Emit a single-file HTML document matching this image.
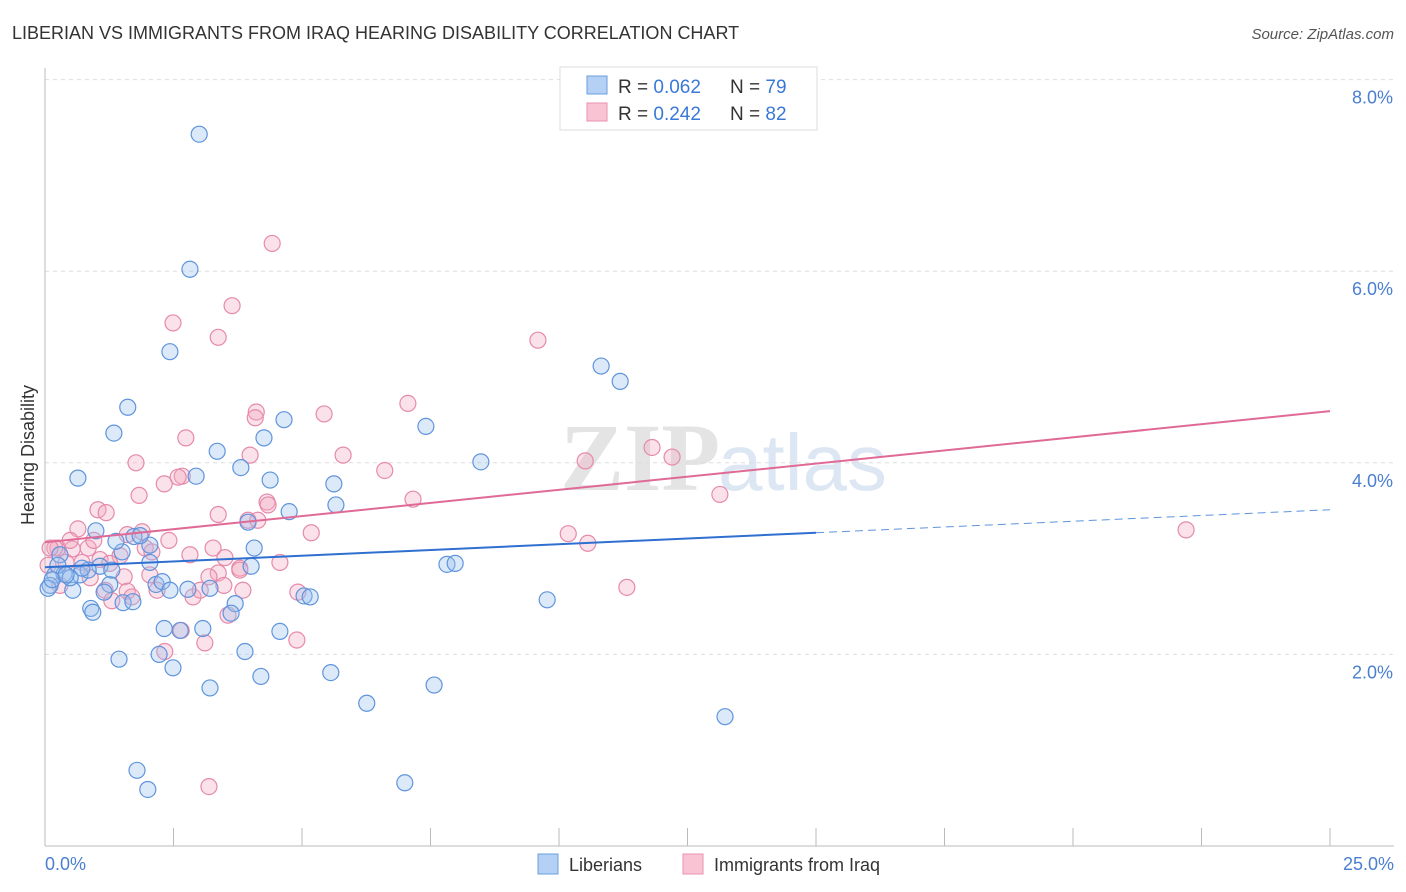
<!DOCTYPE html>
<html><head><meta charset="utf-8">
<style>
body{margin:0;background:#fff;font-family:"Liberation Sans",sans-serif;}
svg{display:block}
</style></head>
<body>
<svg id="chart" width="1406" height="892" xmlns="http://www.w3.org/2000/svg">
<text x="12" y="39" font-size="18" fill="#333">LIBERIAN VS IMMIGRANTS FROM IRAQ HEARING DISABILITY CORRELATION CHART</text>
<text x="1394" y="39" font-size="15" fill="#555" text-anchor="end" font-style="italic">Source: ZipAtlas.com</text>
<text x="720" y="490" font-size="96" fill="#e4e4e4" text-anchor="end" font-family="Liberation Serif" font-weight="bold">ZIP</text>
<text x="718" y="490" font-size="80" fill="#dde7f3">atlas</text>
<g id="grid"></g>
<g id="axes"></g>
<g id="pts"></g>
<g id="lines"></g>
<text x="34" y="455" font-size="18" fill="#333" text-anchor="middle" transform="rotate(-90 34 455)">Hearing Disability</text>
<text x="45" y="870" font-size="18" fill="#4a7fd0">0.0%</text>
<text x="1394" y="870" font-size="18" fill="#4a7fd0" text-anchor="end">25.0%</text>
<g>
<rect x="560" y="67" width="257" height="63" fill="#fff" stroke="#ddd"/>
<rect x="587" y="76" width="20" height="18" fill="#b4d0f4" stroke="#6a9ee0"/>
<rect x="587" y="103" width="20" height="18" fill="#f8c4d4" stroke="#e890ae"/>
<text x="618" y="93" font-size="19" fill="#333">R = <tspan fill="#3a78d8">0.062</tspan></text>
<text x="730" y="93" font-size="19" fill="#333">N = <tspan fill="#3a78d8">79</tspan></text>
<text x="618" y="120" font-size="19" fill="#333">R = <tspan fill="#3a78d8">0.242</tspan></text>
<text x="730" y="120" font-size="19" fill="#333">N = <tspan fill="#3a78d8">82</tspan></text>
</g>
<g>
<rect x="538" y="854" width="20" height="20" fill="#b4d0f4" stroke="#6a9ee0"/>
<text x="569" y="871" font-size="18" fill="#333">Liberians</text>
<rect x="683" y="854" width="20" height="20" fill="#f8c4d4" stroke="#e890ae"/>
<text x="714" y="871" font-size="18" fill="#333">Immigrants from Iraq</text>
</g>
</svg>
<script>
const yTicks=[8,6,4,2];
const yTickLabels=["8.0%","6.0%","4.0%","2.0%"];
const xTicks=[0,2.5,5,7.5,10,12.5,15,17.5,20,22.5,25];
const blueX=[3.00,2.82,2.43,1.61,1.34,0.64,10.82,11.19,7.41,8.48,4.65,4.26,3.81,4.38,2.94,3.35,5.62,5.66,4.75,3.95,4.07,4.01,1.50,1.38,1.73,2.04,0.99,0.29,0.19,0.10,0.06,0.54,0.37,0.68,1.07,1.26,1.15,0.89,0.93,1.52,1.71,2.16,2.28,2.43,2.78,3.70,3.62,5.04,5.16,7.82,7.98,9.77,2.32,2.63,3.07,4.57,3.89,2.22,2.49,1.44,3.21,4.20,5.56,6.26,7.57,13.23,1.79,2.00,7.00,2.04,1.85,0.84,0.49,0.25,0.14,1.30,0.41,0.72,3.21];
const blueY=[7.43,6.02,5.16,4.58,4.31,3.84,5.01,4.85,4.38,4.01,4.45,4.26,3.95,3.82,3.86,4.12,3.78,3.56,3.49,3.38,3.11,2.92,3.07,3.18,3.23,2.96,3.29,3.04,2.83,2.72,2.69,2.67,2.84,2.83,2.92,2.73,2.65,2.48,2.44,2.54,2.55,2.73,2.76,2.67,2.68,2.53,2.43,2.61,2.60,2.94,2.95,2.57,2.27,2.25,2.27,2.24,2.03,2.00,1.86,1.95,1.65,1.77,1.81,1.49,1.68,1.35,0.79,0.59,0.66,3.14,3.24,2.88,2.80,2.93,2.78,2.88,2.83,2.90,2.69];
const pinkX=[4.42,3.64,2.49,3.37,9.59,7.06,4.11,5.43,4.09,2.74,1.77,5.80,6.61,2.67,2.59,2.32,1.83,3.99,4.32,4.34,5.18,7.16,10.51,11.81,12.20,13.13,22.20,10.18,10.56,11.32,1.03,1.19,0.64,0.25,0.84,0.53,1.07,1.46,1.89,1.95,2.08,2.41,1.60,2.82,3.27,3.50,3.95,3.37,3.37,3.19,3.79,4.57,3.48,3.85,4.92,1.54,1.26,1.17,1.60,1.69,2.18,2.88,3.02,3.56,2.65,3.11,4.90,2.33,3.19,0.06,0.19,0.41,0.29,0.88,1.30,0.72,2.04,3.79,0.10,0.49,0.95,4.14];
const pinkY=[6.29,5.64,5.46,5.31,5.28,4.62,4.53,4.51,4.47,4.26,4.00,4.08,3.92,3.86,3.85,3.78,3.66,4.08,3.59,3.56,3.27,3.62,4.02,4.16,4.06,3.67,3.30,3.26,3.16,2.70,3.51,3.48,3.31,3.11,3.11,3.10,2.99,3.03,3.28,3.11,3.07,3.19,3.25,3.04,3.11,3.01,3.40,3.46,2.85,2.81,2.90,2.96,2.72,2.67,2.65,2.81,2.95,2.67,2.66,2.60,2.67,2.60,2.67,2.41,2.25,2.12,2.15,2.03,0.62,2.93,3.11,2.96,2.72,2.80,2.56,2.96,2.83,2.88,3.11,3.19,3.19,3.40];
const blueTrend=[2.91,3.51];
const blueSolidEnd=15;
const pinkTrend=[3.17,4.54];

const NS="http://www.w3.org/2000/svg";
const X0=45,X1=1330,Y0=846,PXY=95.8;
const xs=v=>X0+(v/25)*(X1-X0);
const ys=v=>Y0-v*PXY;
function mk(tag,attrs,parent){const e=document.createElementNS(NS,tag);for(const k in attrs)e.setAttribute(k,attrs[k]);parent.appendChild(e);return e;}
const grid=document.getElementById('grid'),axes=document.getElementById('axes'),pts=document.getElementById('pts'),lines=document.getElementById('lines');
yTicks.forEach((t,i)=>{
  const l=mk('line',{x1:X0,x2:1394,y1:ys(t),y2:ys(t),stroke:'#ddd','stroke-dasharray':'4,4'},grid);
  
  
  const tx=mk('text',{x:1393,y:ys(t)+24,'font-size':18,fill:'#4a7fd0','text-anchor':'end'},grid);
  tx.textContent=yTickLabels[i];
  
  
});
const ax=mk('line',{x1:X0,x2:X0,y1:68,y2:Y0,stroke:'#bbb'},axes);


const bx=mk('line',{x1:X0,x2:1394,y1:Y0,y2:Y0,stroke:'#bbb'},axes);


xTicks.forEach(t=>{
  const l=mk('line',{x1:xs(t),x2:xs(t),y1:828,y2:Y0,stroke:'#bbb'},axes);
  
  
});
function dots(X,Y,fill,stroke,name){
  X.forEach((x,i)=>{
    const c=mk('circle',{cx:xs(x),cy:ys(Y[i]),r:8,fill:fill,'fill-opacity':0.35,stroke:stroke,'stroke-width':1.2},pts);
    
    
  });
}
dots(pinkX,pinkY,'#f4a8c0','#e58aab','iraq-point');
dots(blueX,blueY,'#9cc0ee','#5f94dc','liberian-point');
const bs=blueTrend[0]+(blueTrend[1]-blueTrend[0])*blueSolidEnd/25;
const l1=mk('line',{x1:xs(0),y1:ys(blueTrend[0]),x2:xs(blueSolidEnd),y2:ys(bs),stroke:'#2f6fd0','stroke-width':2},lines);


const l2=mk('line',{x1:xs(blueSolidEnd),y1:ys(bs),x2:xs(25),y2:ys(blueTrend[1]),stroke:'#5f94dc','stroke-width':1,'stroke-dasharray':'8,5'},lines);


const l3=mk('line',{x1:xs(0),y1:ys(pinkTrend[0]),x2:xs(25),y2:ys(pinkTrend[1]),stroke:'#e06a96','stroke-width':2},lines);


</script>
</body></html>
